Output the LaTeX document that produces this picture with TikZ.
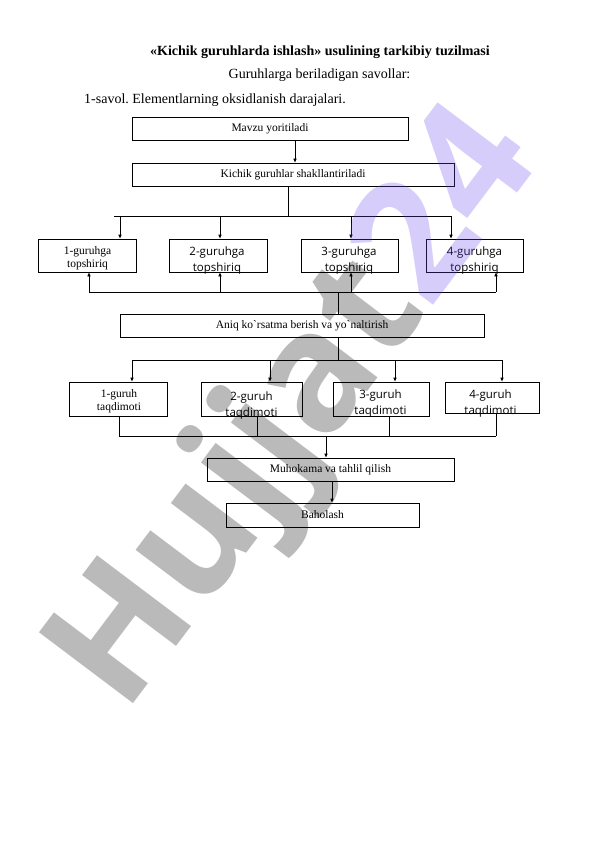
\documentclass[tikz,border=0pt]{standalone}
\usepackage{fontspec}
\setmainfont{Liberation Serif}
\newfontfamily\opensans{Open Sans}
\usetikzlibrary{arrows.meta}

\definecolor{markviolet}{RGB}{107,70,236}

\begin{document}
\frenchspacing
\begin{tikzpicture}[x=1pt,y=-1pt,
  box/.style={draw,line width=0.6pt,inner sep=0pt,minimum height=23pt,
    font=\fontsize{11.5}{13}\selectfont},
  serif/.style={align=center,inner sep=0pt,font=\fontsize{11.5}{13}\selectfont},
  sans/.style={align=center,inner sep=0pt,font=\opensans\fontsize{11.5}{16}\selectfont},
  link/.style={line width=0.6pt},
  arrow/.style={line width=0.6pt,-{Latex[length=4pt,width=3.5pt]}}]

\useasboundingbox (0,0) rectangle (596,842);

% Sarlavha
\node[anchor=base,inner sep=0pt,font=\bfseries\fontsize{14}{16}\selectfont] (title) at (320,55.7)
{«Kichik guruhlarda ishlash» usulining tarkibiy tuzilmasi};

\node[anchor=base,inner sep=0pt,font=\fontsize{14}{16}\selectfont] (question) at (319.5,79)
{Guruhlarga beriladigan savollar:};

\node[anchor=base west,inner sep=0pt,font=\fontsize{14}{16}\selectfont] (savol) at (84,104)
{1-savol. Elementlarning oksidlanish darajalari.};

% Mavzu va guruhlar
\node[box,minimum width=276pt] (mavzu) at (270,129)
{Mavzu yoritiladi};

\node[box,minimum width=322pt] (kichik) at (293,174.5)
{Kichik guruhlar shakllantiriladi};

\coordinate (m1) at (295,0);
\draw[arrow] (mavzu.south -| m1) -- (kichik.north -| m1);

% Topshiriqlar
\foreach \n/\x/\w in {1/87/98,2/218/98,3/349.5/97,4/474.5/97}
{
    \node[box,minimum width=\w pt,minimum height=33pt] (t\n) at (\x,255.5) {};
}

\node[serif] (t1txt) at (87.5,258.5)
{1-guruhga\\topshiriq};

\foreach \n/\x in {2/217,3/349,4/474.5}
{
    \node[sans] (t\n txt) at (\x,261) {\n-guruhga\\topshiriq};
}

\coordinate (busA) at (288,216);
\coordinate (busAl) at (114,216);
\coordinate (busAr) at (451,216);
\draw[link] (kichik.south -| busA) -- (busA);
\draw[link] (busAl) -- (busAr);

\foreach \n/\x in {1/120,2/220,3/351,4/451}
{
    \coordinate (a\n) at (\x,216);
    \draw[arrow] (a\n) -- (a\n |- t\n.north);
}

% Ko'rsatma
\node[box,minimum width=364pt] (aniq) at (302,325.5)
{Aniq ko\textasciigrave rsatma berish va yo\textasciigrave naltirish};

\foreach \n/\x in {1/89,2/220,3/351,4/496}
{
    \coordinate (b\n) at (\x,292);
    \draw[arrow] (b\n) -- (b\n |- t\n.south);
}
\draw[link] (b1) -- (b4);

\coordinate (busB) at (338,292);
\draw[link] (aniq.north -| busB) -- (busB);

% Taqdimotlar
\foreach \n/\x/\w in {1/118/98,2/251.5/101,3/381/96}
{
    \node[box,minimum width=\w pt,minimum height=34pt] (p\n) at (\x,399) {};
}
\node[box,minimum width=94pt,minimum height=31pt] (p4) at (492,397.5) {};

\node[serif] (p1txt) at (119,401.5)
{1-guruh\\taqdimoti};

\node[sans] (p2txt) at (251.5,406)
{2-guruh\\taqdimoti};

\node[sans] (p3txt) at (380.5,403.5)
{3-guruh\\taqdimoti};

\node[sans] (p4txt) at (490.5,403.5)
{4-guruh\\taqdimoti};

\coordinate (busC) at (338,360);
\draw[link] (aniq.south -| busC) -- (busC);

\foreach \n/\x in {1/132,2/270,3/395,4/502}
{
    \coordinate (c\n) at (\x,360);
    \draw[arrow] (c\n) -- (c\n |- p\n.north);
}
\draw[link] (c1) -- (c4);

\foreach \n/\x in {1/119,2/257,3/389,4/496}
{
    \coordinate (d\n) at (\x,436);
    \draw[link] (p\n.south -| d\n) -- (d\n);
}
\draw[link] (d1) -- (d4);

% Muhokama va baholash
\node[box,minimum width=247pt] (muhokama) at (330.5,469.5)
{Muhokama va tahlil qilish};

\node[box,minimum width=193pt,minimum height=24pt] (baholash) at (322.5,515)
{Baholash};

\coordinate (busD) at (326,436);
\draw[arrow] (busD) -- (muhokama.north -| busD);

\coordinate (m2) at (332,0);
\draw[arrow] (muhokama.south -| m2) -- (baholash.north -| m2);

% Suv belgisi
\node[rotate=53,text opacity=0.27,inner sep=0pt,
  font=\opensans\bfseries\fontsize{165}{170}\selectfont] (mark) at (299,412)
{Hujjat\textcolor{markviolet}{24}};

\end{tikzpicture}
\end{document}
